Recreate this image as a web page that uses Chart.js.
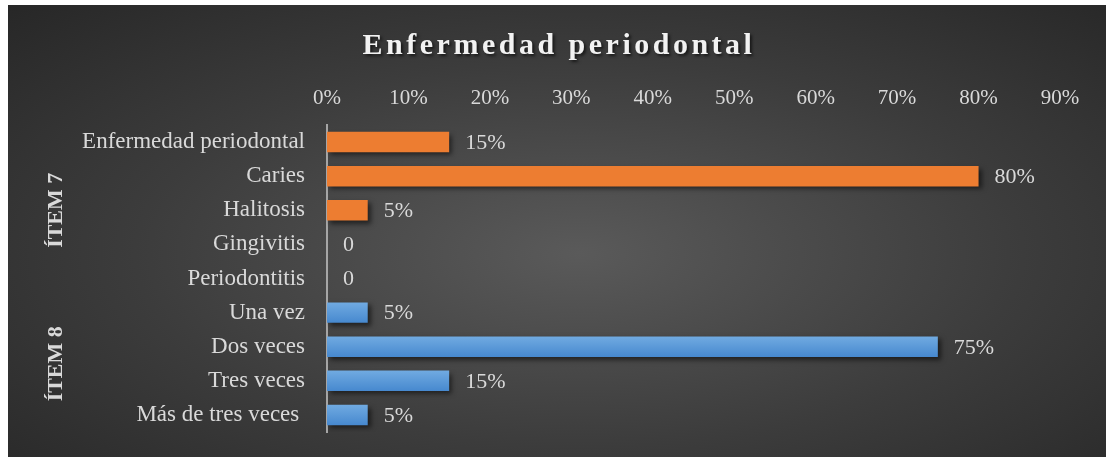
<!DOCTYPE html>
<html>
<head>
<meta charset="utf-8">
<script src="https://cdn.jsdelivr.net/npm/chart.js@4/dist/chart.umd.min.js"></script>
<style>
  body { margin: 0; background: #fff; }
  #fondo {
    position: absolute; left: 8px; top: 5px; width: 1098px; height: 452px;
    background: radial-gradient(ellipse farthest-corner at 52% 55%, #5a5a5a 0%, #3c3c3c 55%, #272727 100%);
  }
  #contenedor { position: absolute; left: 0; top: 0; width: 1106px; height: 457px; }
</style>
</head>
<body>
<div id="fondo"></div>
<div id="contenedor"><canvas id="grafico" width="1106" height="457"></canvas></div>
<script>
// DATOS
const titulo = 'Enfermedad periodontal';
const categorias = ['Enfermedad periodontal', 'Caries', 'Halitosis', 'Gingivitis', 'Periodontitis',
  'Una vez', 'Dos veces', 'Tres veces', 'Más de tres veces '];
const item7 = [15, 80, 5, 0, 0];
const item8 = [5, 75, 15, 5];
const grupos = ['ÍTEM 7', 'ÍTEM 8'];
const ejeMax = 90;
const ejePaso = 10;

const FUENTE = "'Liberation Serif', 'Times New Roman', serif";
const GRIS = '#d9d9d9';

// datasets con nulls para que cada grupo tenga su color
const datos7 = item7.concat(item8.map(() => null));
const datos8 = item7.map(() => null).concat(item8);

// degradado azul por barra
function azul(ctx) {
  const chart = ctx.chart;
  const y = chart.scales.y;
  if (!chart.chartArea || !y || ctx.dataIndex == null) return '#5B9BD5';
  const py = y.getPixelForValue(ctx.dataIndex);
  const g = chart.ctx.createLinearGradient(0, py - 10, 0, py + 10);
  g.addColorStop(0, '#70aae1');
  g.addColorStop(1, '#4789cf');
  return g;
}

// sombra de las barras
const sombraBarras = {
  id: 'sombraBarras',
  beforeDatasetsDraw(chart) {
    const c = chart.ctx;
    c.save();
    c.shadowColor = 'rgba(0,0,0,0.55)';
    c.shadowBlur = 5;
    c.shadowOffsetX = 3;
    c.shadowOffsetY = 3;
  },
  afterDatasetsDraw(chart) {
    chart.ctx.restore();
  }
};

// etiquetas de valor, titulo y grupos
const textos = {
  id: 'textos',
  afterDraw(chart) {
    const c = chart.ctx;
    c.save();
    c.fillStyle = GRIS;
    c.font = '22px ' + FUENTE;
    c.textAlign = 'left';
    c.textBaseline = 'middle';
    chart.data.datasets.forEach((ds, i) => {
      const meta = chart.getDatasetMeta(i);
      meta.data.forEach((bar, j) => {
        const v = ds.data[j];
        if (v == null) return;
        c.fillText(v === 0 ? '0' : v + '%', bar.x + 16, bar.y + 1);
      });
    });

    // grupos rotados
    const y = chart.scales.y;
    const rangos = [[0, item7.length - 1], [item7.length, categorias.length - 1]];
    c.font = 'bold 22px ' + FUENTE;
    c.textAlign = 'center';
    rangos.forEach((r, k) => {
      const py = (y.getPixelForValue(r[0]) + y.getPixelForValue(r[1])) / 2;
      c.save();
      c.translate(56, py);
      c.rotate(-Math.PI / 2);
      c.fillText(grupos[k], 0, 0);
      c.restore();
    });

    // titulo
    c.font = 'bold 30px ' + FUENTE;
    c.letterSpacing = '3.5px';
    c.fillStyle = '#f2f2f2';
    c.shadowColor = 'rgba(0,0,0,0.6)';
    c.shadowBlur = 3;
    c.shadowOffsetX = 2;
    c.shadowOffsetY = 2;
    c.fillText(titulo, chart.width / 2 + 6, 46);
    c.restore();
  }
};

new Chart(document.getElementById('grafico'), {
  type: 'bar',
  data: {
    labels: categorias,
    datasets: [
      { label: 'Ítem 7', data: datos7, backgroundColor: '#ED7D31' },
      { label: 'Ítem 8', data: datos8, backgroundColor: azul }
    ]
  },
  options: {
    indexAxis: 'y',
    responsive: false,
    animation: false,
    layout: { padding: { left: 8, right: 46, top: 0, bottom: 25 } },
    datasets: { bar: { categoryPercentage: 0.6, barPercentage: 1, borderWidth: 0 } },
    plugins: {
      legend: { display: false },
      tooltip: { enabled: false },
      title: { display: false }
    },
    scales: {
      x: {
        position: 'top',
        stacked: true,
        min: 0,
        max: ejeMax,
        ticks: {
          stepSize: ejePaso,
          color: GRIS,
          padding: 14,
          font: { family: FUENTE, size: 21 },
          callback: v => v + '%'
        },
        grid: { display: false, drawTicks: false },
        border: { display: false },
        afterFit: s => { s.height = 125; }
      },
      y: {
        stacked: true,
        ticks: {
          color: GRIS,
          padding: 22,
          font: { family: FUENTE, size: 23 }
        },
        grid: { display: false, drawTicks: false },
        border: { display: true, color: '#a6a6a6', width: 2 },
        afterFit: s => {
          s.width = 319;
          s.paddingTop = 0;
          s.paddingBottom = 0;
        }
      }
    }
  },
  plugins: [sombraBarras, textos]
});
</script>
</body>
</html>
